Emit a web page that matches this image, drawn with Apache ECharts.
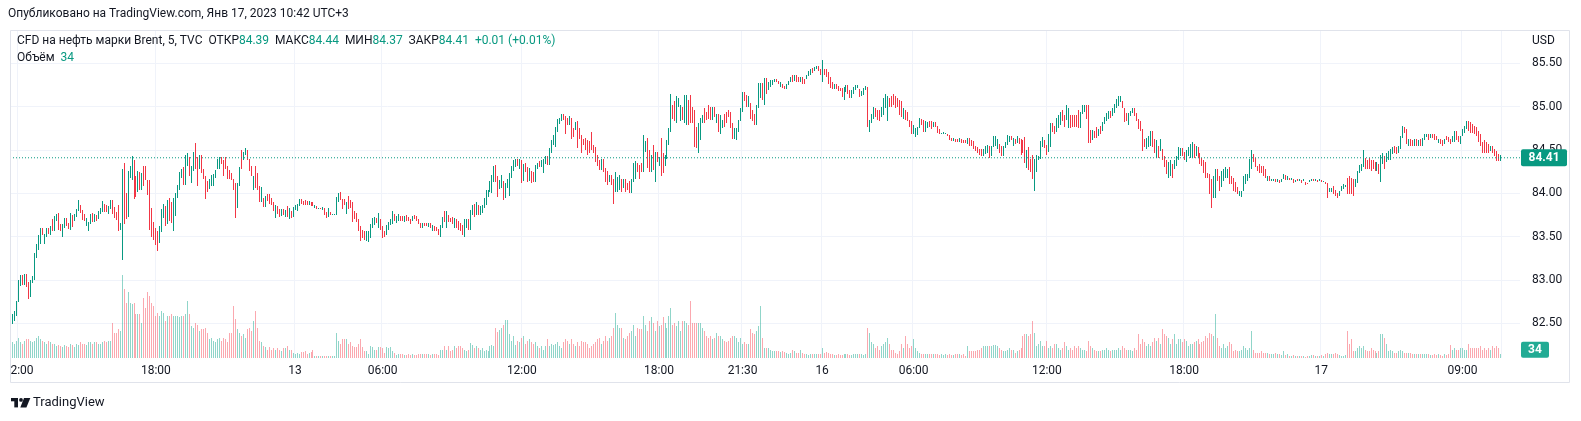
<!DOCTYPE html>
<html>
<head>
<meta charset="utf-8">
<script src="https://cdn.jsdelivr.net/npm/echarts@6.0.0/dist/echarts.min.js"></script>
<style>
  html, body { margin: 0; padding: 0; background: #fff; }
  #chart { width: 1581px; height: 421px; }
</style>
</head>
<body>
<div id="chart"></div>
<script>
// 5-minute bars: [open, close, low, high, volume]
// Jan 12, 12:00 -> 20:00
const part1 = [
  [82.42,82.56,82.40,82.58,140],[82.52,82.58,82.49,82.61,140],[82.55,82.62,82.53,82.64,130],[82.60,82.74,82.58,82.76,155],
  [82.75,82.98,82.74,83.00,185],[82.96,83.04,82.93,83.06,140],[83.04,82.96,82.94,83.06,125],[82.96,83.05,82.94,83.07,150],
  [83.05,82.93,82.92,83.07,170],[82.93,82.80,82.78,82.98,170],[82.82,82.98,82.80,83.00,155],[82.98,83.03,82.96,83.05,140],
  [83.02,83.30,83.00,83.31,155],[83.28,83.39,83.25,83.42,185],[83.38,83.49,83.35,83.52,200],[83.45,83.58,83.42,83.60,170],
  [83.58,83.54,83.52,83.60,155],[83.45,83.52,83.42,83.53,140],[83.52,83.58,83.50,83.60,125],[83.58,83.55,83.53,83.60,150],
  [83.55,83.60,83.52,83.62,140],[83.66,83.60,83.56,83.70,130],[83.58,83.72,83.56,83.74,125],[83.70,83.74,83.68,83.76,110],
  [83.75,83.62,83.58,83.77,115],[83.63,83.59,83.56,83.65,110],[83.54,83.62,83.50,83.64,95],[83.62,83.68,83.60,83.71,115],
  [83.68,83.64,83.62,83.71,110],[83.64,83.61,83.59,83.66,95],[83.60,83.75,83.58,83.77,125],[83.74,83.64,83.61,83.75,115],
  [83.70,83.75,83.68,83.76,95],[83.75,83.80,83.73,83.82,125],[83.80,83.90,83.79,83.92,115],[83.86,83.79,83.77,83.87,140],
  [83.80,83.70,83.69,83.81,125],[83.74,83.70,83.68,83.76,130],[83.67,83.70,83.62,83.72,115],[83.60,83.66,83.56,83.67,140],
  [83.66,83.74,83.64,83.76,140],[83.75,83.69,83.67,83.77,125],[83.69,83.74,83.67,83.76,140],[83.74,83.70,83.68,83.75,140],
  [83.72,83.78,83.70,83.79,125],[83.78,83.81,83.76,83.83,130],[83.80,83.89,83.78,83.91,140],[83.86,83.80,83.78,83.88,155],
  [83.84,83.80,83.78,83.87,140],[83.79,83.83,83.76,83.85,150],[83.83,83.90,83.82,83.92,150],[83.90,83.77,83.76,83.92,320],
  [83.82,83.74,83.72,83.84,230],[83.76,83.70,83.69,83.78,230],[83.72,83.60,83.56,83.86,260],[83.60,83.63,83.58,83.66,245],
  [83.62,84.20,83.23,84.28,760],[84.25,83.70,83.65,84.35,630],[83.90,83.75,83.70,84.00,500],[83.75,84.20,83.73,84.26,600],
  [84.20,84.25,84.18,84.32,505],[84.25,84.40,84.15,84.43,490],[84.36,83.95,83.93,84.38,505],[84.15,84.00,83.96,84.20,400],
  [84.05,84.24,84.02,84.26,400],[84.22,84.06,84.04,84.25,400],[84.06,84.22,84.04,84.24,320],[84.30,84.10,84.08,84.32,550],
  [84.30,84.18,84.15,84.32,460],[84.13,84.00,83.98,84.15,600],[84.10,83.60,83.58,84.15,570],[83.80,83.52,83.50,83.83,505],
  [83.65,83.48,83.46,83.67,475],[83.58,83.42,83.40,83.60,385],[83.55,83.38,83.33,83.57,415],[83.45,83.60,83.43,83.62,385],
  [83.58,83.80,83.55,83.82,430],[83.75,83.86,83.72,83.88,415],[83.82,83.64,83.62,83.85,340],[83.66,83.90,83.64,83.92,385],
  [83.92,83.70,83.68,83.95,385],[83.88,83.68,83.66,83.90,400],[83.60,83.92,83.56,83.95,385]
];
// Jan 12 evening -> Jan 13 early
const part2 = [
  [83.84,83.98,83.74,84.00,380],[83.98,84.08,83.94,84.10,385],[84.06,84.23,84.04,84.25,370],[84.22,84.26,84.18,84.28,385],
  [84.26,84.14,84.10,84.30,385],[84.12,84.38,84.10,84.44,400],[84.36,84.44,84.32,84.46,520],[84.40,84.22,84.20,84.42,400],
  [84.20,84.30,84.12,84.32,290],[84.28,84.46,84.26,84.48,275],[84.45,84.30,84.28,84.58,320],[84.40,84.10,84.08,84.42,305],
  [84.30,84.40,84.28,84.44,245],[84.42,84.26,84.24,84.44,260],[84.27,84.20,84.17,84.28,260],[84.18,83.95,83.93,84.20,275],
  [84.12,84.04,84.02,84.14,230],[84.08,84.15,84.05,84.17,170],[84.10,84.20,84.08,84.21,185],[84.10,84.20,84.08,84.22,155],
  [84.20,84.25,84.18,84.27,140],[84.30,84.38,84.28,84.40,170],[84.30,84.40,84.28,84.42,185],[84.40,84.36,84.34,84.42,155],
  [84.35,84.22,84.20,84.38,185],[84.40,84.30,84.28,84.42,170],[84.30,84.18,84.16,84.32,140],[84.25,84.18,84.16,84.27,230],
  [84.22,84.18,84.15,84.24,230],[84.14,84.06,84.04,84.16,475],[84.10,83.74,83.72,84.12,355],[83.85,84.10,83.83,84.12,260],
  [84.10,84.28,84.08,84.30,230],[84.40,84.30,84.28,84.50,200],[84.40,84.46,84.38,84.48,215],[84.46,84.50,84.44,84.52,185],
  [84.48,84.40,84.38,84.50,260],[84.38,84.28,84.26,84.40,275],[84.30,84.22,84.20,84.32,245],[84.06,84.18,84.04,84.20,340],
  [84.29,84.08,84.06,84.31,430],[84.22,84.06,84.04,84.24,275],[84.06,83.92,83.90,84.08,155],[83.92,84.05,83.90,84.07,140],
  [83.92,83.86,83.84,83.94,110],[83.86,83.95,83.84,83.97,95],[83.97,83.93,83.91,83.99,75],[83.97,83.90,83.88,83.99,95],
  [83.92,83.88,83.86,83.94,75],[83.88,83.81,83.79,83.90,85],[83.77,83.85,83.72,83.87,75],[83.83,83.78,83.76,83.85,85],
  [83.80,83.74,83.73,83.82,75],[83.76,83.80,83.74,83.82,60],[83.80,83.77,83.75,83.82,85],[83.76,83.79,83.73,83.81,85],
  [83.83,83.75,83.73,83.85,105],[83.73,83.82,83.70,83.83,75],[83.78,83.73,83.71,83.79,75],[83.75,83.83,83.73,83.84,45],
  [83.83,83.85,83.81,83.87,35],[83.82,83.87,83.80,83.88,45],[83.87,83.91,83.85,83.93,35],[83.92,83.89,83.88,83.93,55],
  [83.90,83.87,83.86,83.91,55],[83.91,83.88,83.87,83.92,60],[83.90,83.87,83.86,83.91,35],[83.87,83.90,83.86,83.91,45],
  [83.89,83.86,83.85,83.90,55],[83.89,83.86,83.85,83.90,75],[83.84,83.86,83.83,83.87,15],[83.84,83.83,83.82,83.85,12],
  [83.83,83.83,83.83,83.83,12],[83.83,83.82,83.82,83.83,12],[83.82,83.83,83.81,83.84,15],[83.82,83.77,83.75,83.83,18],
  [83.77,83.74,83.72,83.78,18],[83.74,83.81,83.73,83.83,15],[83.77,83.76,83.75,83.78,15],[83.76,83.76,83.76,83.76,15],
  [83.76,83.76,83.75,83.76,15],[83.76,83.95,83.75,83.96,230],[83.93,83.98,83.90,84.00,155],[84.00,83.94,83.92,84.02,125]
];
// Jan 13 morning
const part3 = [
  [83.92,83.83,83.82,83.93,170],[83.92,83.88,83.86,83.93,170],[83.77,83.88,83.76,83.90,170],[83.96,83.84,83.82,83.97,125],
  [83.90,83.85,83.83,83.92,140],[83.88,83.69,83.67,83.90,110],[83.79,83.72,83.70,83.80,95],[83.75,83.69,83.67,83.77,95],
  [83.69,83.58,83.56,83.70,125],[83.60,83.46,83.45,83.62,170],[83.57,83.50,83.48,83.58,95],[83.54,83.48,83.46,83.56,60],
  [83.47,83.54,83.45,83.56,60],[83.46,83.54,83.44,83.56,30],[83.50,83.62,83.48,83.64,110],[83.62,83.69,83.60,83.71,95],
  [83.65,83.71,83.63,83.73,75],[83.71,83.67,83.66,83.72,75],[83.62,83.75,83.60,83.77,95],[83.68,83.60,83.58,83.70,100],
  [83.60,83.52,83.48,83.62,85],[83.56,83.52,83.50,83.57,45],[83.54,83.62,83.52,83.63,95],[83.60,83.65,83.58,83.67,85],
  [83.65,83.67,83.63,83.70,95],[83.66,83.77,83.64,83.79,60],[83.75,83.69,83.68,83.76,45],[83.67,83.73,83.66,83.74,25],
  [83.69,83.75,83.68,83.76,35],[83.73,83.69,83.68,83.74,30],[83.73,83.69,83.68,83.74,30],[83.69,83.73,83.67,83.74,28],
  [83.74,83.69,83.68,83.75,25],[83.72,83.69,83.68,83.73,30],[83.69,83.65,83.64,83.70,25],[83.69,83.73,83.68,83.74,30],
  [83.74,83.71,83.70,83.75,25],[83.73,83.69,83.68,83.74,25],[83.69,83.65,83.64,83.70,30],[83.65,83.62,83.60,83.66,35],
  [83.62,83.65,83.60,83.66,30],[83.65,83.63,83.62,83.66,30],[83.65,83.63,83.62,83.66,35],[83.62,83.65,83.61,83.66,30],
  [83.65,83.61,83.60,83.66,25],[83.58,83.62,83.57,83.63,35],[83.61,83.58,83.57,83.62,30],[83.60,83.57,83.56,83.61,30],
  [83.58,83.54,83.52,83.59,25],[83.52,83.62,83.50,83.63,75],[83.62,83.71,83.60,83.73,75],[83.75,83.69,83.67,83.79,105],
  [83.62,83.77,83.60,83.79,75],[83.73,83.69,83.67,83.75,105],[83.71,83.69,83.67,83.72,60],[83.71,83.65,83.64,83.73,75],
  [83.62,83.71,83.60,83.72,105],[83.69,83.62,83.60,83.70,90],[83.67,83.60,83.58,83.68,105],[83.65,83.58,83.56,83.66,105],
  [83.62,83.54,83.52,83.63,90],[83.52,83.69,83.50,83.70,75],[83.62,83.69,83.60,83.70,60],[83.69,83.60,83.58,83.70,75],
  [83.60,83.79,83.58,83.81,135],[83.77,83.85,83.75,83.87,120],[83.87,83.75,83.73,83.88,90],[83.77,83.88,83.75,83.90,105],
  [83.85,83.77,83.75,83.86,90],[83.77,83.83,83.75,83.85,75],[83.79,83.85,83.77,83.87,90],[83.85,83.92,83.83,83.94,60],
  [83.88,84.02,83.86,84.04,75],[83.98,84.02,83.96,84.04,60],[84.03,84.12,84.01,84.14,105],[84.02,84.19,84.00,84.21,120],
  [84.15,84.25,84.13,84.31,105],[84.25,84.15,84.13,84.33,270],[84.18,83.98,83.96,84.20,240],[84.07,84.13,84.05,84.15,255],
  [84.08,84.19,84.06,84.21,270],[84.12,83.94,83.92,84.14,300],[83.96,84.10,83.94,84.12,345],[84.08,84.15,84.06,84.17,350]
];
// Jan 13 midday -> evening
const part4 = [
  [84.00,84.22,83.97,84.24,215],[84.20,84.28,84.18,84.31,150],[84.28,84.36,84.26,84.38,200],[84.32,84.38,84.30,84.40,120],
  [84.38,84.33,84.31,84.40,150],[84.30,84.38,84.28,84.40,140],[84.36,84.14,84.12,84.38,185],[84.16,84.32,84.14,84.34,200],
  [84.33,84.27,84.25,84.35,125],[84.28,84.15,84.13,84.30,155],[84.16,84.27,84.14,84.29,170],[84.25,84.14,84.12,84.26,140],
  [84.23,84.15,84.13,84.25,125],[84.15,84.31,84.13,84.33,140],[84.30,84.33,84.28,84.35,105],[84.36,84.32,84.30,84.37,90],
  [84.32,84.37,84.30,84.38,105],[84.25,84.38,84.23,84.40,75],[84.36,84.42,84.34,84.43,105],[84.42,84.35,84.33,84.43,170],
  [84.35,84.50,84.33,84.52,105],[84.48,84.60,84.46,84.62,125],[84.58,84.65,84.56,84.67,115],[84.55,84.75,84.53,84.77,125],
  [84.73,84.85,84.71,84.86,140],[84.83,84.85,84.80,84.87,105],[84.85,84.90,84.83,84.92,90],[84.90,84.87,84.85,84.92,140],
  [84.87,84.70,84.68,84.89,170],[84.85,84.81,84.79,84.87,155],[84.81,84.87,84.79,84.89,125],[84.85,84.65,84.63,84.87,170],
  [84.73,84.67,84.65,84.75,125],[84.75,84.81,84.73,84.82,105],[84.81,84.54,84.52,84.83,140],[84.73,84.65,84.63,84.75,105],
  [84.65,84.48,84.46,84.67,155],[84.62,84.58,84.56,84.63,140],[84.62,84.52,84.50,84.64,140],[84.60,84.46,84.44,84.62,125],
  [84.58,84.48,84.46,84.60,90],[84.69,84.52,84.50,84.71,105],[84.54,84.48,84.46,84.56,125],[84.52,84.38,84.36,84.54,140],
  [84.42,84.33,84.31,84.44,170],[84.37,84.29,84.27,84.38,185],[84.29,84.38,84.27,84.40,125],[84.38,84.27,84.25,84.40,155],
  [84.27,84.15,84.13,84.29,200],[84.25,84.12,84.10,84.26,155],[84.15,84.19,84.13,84.21,185],[84.19,84.12,84.10,84.21,200],
  [84.15,84.04,83.88,84.17,275],[84.04,84.23,84.02,84.25,415],[84.04,84.17,84.02,84.19,305],[84.06,84.19,84.04,84.21,275],
  [84.15,84.04,84.02,84.17,275],[84.08,84.15,84.06,84.17,185],[84.15,84.04,84.02,84.17,170],[84.10,84.06,84.04,84.12,200],
  [84.12,84.02,84.00,84.14,230],[84.02,84.15,84.00,84.17,245],[84.15,84.33,84.13,84.35,305],[84.19,84.35,84.17,84.37,200],
  [84.33,84.27,84.25,84.35,275],[84.31,84.19,84.17,84.33,260],[84.33,84.27,84.25,84.35,260],[84.27,84.65,84.25,84.67,385],
  [84.50,84.58,84.48,84.60,305],[84.62,84.31,84.29,84.64,245],[84.48,84.27,84.25,84.50,340],[84.27,84.42,84.25,84.44,370],
  [84.54,84.29,84.27,84.56,320],[84.15,84.46,84.13,84.48,245],[84.46,84.38,84.36,84.48,340],[84.33,84.40,84.31,84.42,290],
  [84.62,84.29,84.20,84.64,305],[84.44,84.25,84.23,84.46,370],[84.33,84.42,84.31,84.44,320],[84.42,84.58,84.40,84.62,275],
  [84.58,84.73,84.56,84.75,385],[84.73,85.08,84.71,85.15,460],[85.00,84.88,84.86,85.02,305]
];
// Jan 13 evening -> Jan 16 open
const part5 = [
  [85.04,84.85,84.83,85.06,320],[84.83,85.10,84.81,85.12,290],[85.02,85.08,85.00,85.10,340],[84.85,85.00,84.83,85.02,245],
  [84.98,84.87,84.85,85.00,340],[84.83,85.12,84.81,85.13,340],[84.81,85.12,84.79,85.14,320],[85.06,84.81,84.79,85.08,305],
  [85.12,84.83,84.81,85.13,520],[84.98,84.83,84.81,85.00,320],[84.94,84.56,84.54,84.96,320],[84.75,84.54,84.52,84.77,320],
  [84.52,84.79,84.46,84.81,320],[84.63,84.85,84.61,84.87,320],[84.83,84.88,84.81,84.90,275],[84.96,84.83,84.81,84.98,245],
  [84.92,84.87,84.85,84.94,200],[85.00,84.88,84.86,85.02,185],[84.98,84.87,84.85,85.00,200],[84.87,84.98,84.85,85.00,170],
  [84.98,84.90,84.88,85.00,185],[84.83,84.90,84.81,84.92,230],[84.90,84.73,84.71,84.92,200],[84.71,84.88,84.69,84.90,200],
  [84.77,84.83,84.75,84.85,170],[84.90,84.79,84.77,84.92,155],[84.92,84.83,84.81,84.94,140],[84.94,84.90,84.88,84.96,155],
  [84.92,84.77,84.75,84.94,185],[84.79,84.65,84.63,84.81,200],[84.65,84.73,84.63,84.75,200],[84.63,84.73,84.61,84.75,185],
  [84.73,84.83,84.71,84.85,140],[84.85,84.96,84.83,84.98,185],[84.96,85.15,84.94,85.17,125],[85.15,85.08,85.06,85.17,140],
  [85.12,85.02,85.00,85.14,125],[85.02,85.10,85.00,85.12,125],[85.02,84.88,84.86,85.04,260],[84.94,84.85,84.83,84.96,230],
  [84.90,84.81,84.79,84.92,215],[84.81,85.00,84.79,85.02,245],[85.00,85.25,84.98,85.27,290],[85.12,85.25,85.10,85.27,475],
  [85.25,85.10,85.08,85.27,185],[85.04,85.31,85.02,85.33,90],[85.31,85.17,85.15,85.33,90],[85.21,85.27,85.19,85.29,90],
  [85.25,85.29,85.23,85.31,75],[85.27,85.29,85.25,85.31,60],[85.29,85.31,85.29,85.32,60],[85.31,85.29,85.28,85.32,60],
  [85.29,85.27,85.26,85.30,65],[85.24,85.27,85.23,85.28,55],[85.25,85.22,85.21,85.26,65],[85.23,85.21,85.20,85.24,55],
  [85.21,85.25,85.20,85.26,45],[85.26,85.29,85.25,85.30,35],[85.29,85.33,85.28,85.34,45],[85.35,85.29,85.28,85.36,75],
  [85.31,85.36,85.30,85.37,60],[85.35,85.29,85.28,85.36,45],[85.33,85.29,85.28,85.34,45],[85.29,85.33,85.28,85.34,75],
  [85.33,85.27,85.26,85.34,45],[85.31,85.27,85.26,85.32,35],[85.33,85.36,85.32,85.37,30],[85.36,85.40,85.35,85.41,25],
  [85.38,85.42,85.37,85.43,35],[85.44,85.40,85.39,85.45,30],[85.42,85.45,85.41,85.46,35],[85.44,85.46,85.43,85.47,30],
  [85.46,85.42,85.41,85.47,35],[85.42,85.38,85.37,85.43,35],[85.29,85.42,85.29,85.54,90],[85.42,85.38,85.37,85.44,45],
  [85.42,85.35,85.34,85.43,55],[85.38,85.27,85.26,85.40,45],[85.33,85.23,85.22,85.34,30],[85.27,85.21,85.20,85.28,35],
  [85.21,85.25,85.20,85.26,25],[85.25,85.21,85.20,85.26,25],[85.23,85.19,85.18,85.24,30],[85.21,85.19,85.18,85.22,25],
  [85.19,85.12,85.11,85.21,25]
];
// Jan 16 night -> morning
const part6 = [
  [85.10,85.21,85.08,85.23,35],[85.19,85.23,85.17,85.25,30],[85.23,85.17,85.15,85.25,30],[85.17,85.12,85.10,85.19,25],
  [85.12,85.17,85.10,85.19,25],[85.17,85.21,85.15,85.23,30],[85.21,85.23,85.19,85.25,30],[85.22,85.24,85.21,85.25,35],
  [85.19,85.12,85.11,85.20,30],[85.13,85.17,85.12,85.18,30],[85.15,85.21,85.14,85.22,25],[85.21,85.23,85.19,85.24,30],
  [85.21,84.79,84.77,85.23,275],[84.73,84.83,84.71,84.85,230],[84.83,84.90,84.81,84.92,140],[84.88,84.98,84.86,85.00,125],
  [84.96,84.90,84.88,84.98,90],[84.94,84.87,84.85,84.96,105],[84.94,84.85,84.83,84.96,75],[84.90,84.98,84.88,85.00,105],
  [84.92,85.08,84.90,85.10,125],[85.00,85.13,84.98,85.15,140],[84.85,85.10,84.83,85.12,185],[85.08,85.02,85.00,85.10,125],
  [85.10,85.02,85.00,85.12,75],[85.13,85.04,85.02,85.15,75],[85.10,85.00,84.98,85.12,45],[85.08,85.02,85.00,85.10,30],
  [85.06,84.92,84.90,85.08,60],[85.04,84.90,84.88,85.06,125],[84.88,84.96,84.86,84.98,90],[84.94,84.87,84.85,84.96,200],
  [84.92,84.85,84.83,84.94,125],[84.83,84.79,84.77,84.85,90],[84.81,84.71,84.69,84.83,105],[84.71,84.77,84.69,84.79,170],
  [84.67,84.73,84.65,84.75,90],[84.69,84.75,84.67,84.77,60],[84.77,84.85,84.75,84.87,45],[84.85,84.81,84.79,84.86,35],
  [84.83,84.73,84.71,84.85,30],[84.73,84.81,84.71,84.83,35],[84.77,84.81,84.75,84.82,30],[84.81,84.77,84.76,84.83,35],
  [84.81,84.75,84.74,84.83,30],[84.77,84.81,84.76,84.82,35],[84.81,84.77,84.76,84.82,30],[84.77,84.71,84.70,84.78,35],
  [84.73,84.69,84.68,84.74,25],[84.69,84.69,84.69,84.70,30],[84.68,84.70,84.68,84.71,25],[84.69,84.69,84.69,84.70,35],
  [84.69,84.67,84.66,84.69,25],[84.67,84.63,84.62,84.67,30],[84.63,84.61,84.60,84.64,25],[84.60,84.63,84.60,84.64,25],
  [84.62,84.60,84.59,84.63,35],[84.62,84.60,84.59,84.63,35],[84.60,84.63,84.59,84.64,30],[84.62,84.59,84.58,84.63,25],
  [84.61,84.59,84.58,84.62,30],[84.60,84.59,84.58,84.61,15],[84.58,84.63,84.57,84.64,105],[84.63,84.56,84.55,84.64,60],
  [84.60,84.56,84.55,84.61,60],[84.59,84.52,84.51,84.60,60],[84.54,84.50,84.49,84.55,60],[84.52,84.48,84.47,84.53,75],
  [84.50,84.45,84.44,84.51,75],[84.50,84.44,84.43,84.51,90],[84.44,84.50,84.43,84.51,105],[84.46,84.54,84.45,84.55,105],
  [84.48,84.55,84.47,84.56,105],[84.54,84.42,84.41,84.55,105],[84.44,84.54,84.43,84.55,105],[84.54,84.65,84.53,84.66,120],
  [84.56,84.65,84.55,84.66,120],[84.52,84.62,84.51,84.63,105],[84.56,84.48,84.47,84.57,90],[84.54,84.44,84.43,84.55,75],
  [84.44,84.54,84.43,84.55,60],[84.54,84.58,84.52,84.59,60],[84.58,84.65,84.56,84.67,75]
];
// Jan 16 midday
const part7 = [
  [84.60,84.65,84.59,84.66,90],[84.65,84.62,84.61,84.66,75],[84.56,84.63,84.55,84.64,75],[84.62,84.58,84.57,84.63,45],
  [84.59,84.65,84.58,84.66,60],[84.63,84.58,84.57,84.64,75],[84.62,84.46,84.44,84.63,90],[84.60,84.48,84.46,84.62,200],
  [84.63,84.38,84.35,84.65,215],[84.31,84.48,84.29,84.50,215],[84.52,84.29,84.27,84.54,200],[84.38,84.27,84.25,84.40,215],
  [84.42,84.19,84.17,84.44,340],[84.19,84.38,84.03,84.40,230],[84.27,84.42,84.25,84.44,105],[84.40,84.42,84.39,84.43,125],
  [84.42,84.58,84.40,84.60,155],[84.56,84.63,84.54,84.65,105],[84.60,84.54,84.52,84.62,105],[84.54,84.46,84.44,84.56,155],
  [84.50,84.67,84.48,84.69,90],[84.56,84.79,84.54,84.81,105],[84.79,84.73,84.71,84.81,90],[84.77,84.71,84.69,84.78,125],
  [84.73,84.85,84.71,84.87,125],[84.77,84.88,84.75,84.90,90],[84.81,84.92,84.79,84.94,75],[84.94,84.85,84.83,84.96,90],
  [84.88,84.79,84.77,84.90,140],[84.87,85.00,84.85,85.02,105],[84.77,84.96,84.75,84.98,75],[84.88,84.77,84.75,84.90,90],
  [84.88,84.79,84.77,84.90,75],[84.88,84.79,84.77,84.90,105],[84.88,84.79,84.77,84.90,90],[84.94,84.77,84.75,84.96,105],
  [84.77,84.92,84.75,84.94,90],[84.94,85.00,84.92,85.02,75],[84.96,85.00,84.94,85.02,75],[85.00,84.88,84.86,85.02,60],
  [85.00,84.60,84.58,85.02,155],[84.71,84.60,84.58,84.73,105],[84.63,84.71,84.62,84.73,90],[84.71,84.65,84.64,84.72,75],
  [84.75,84.65,84.64,84.77,60],[84.67,84.73,84.66,84.74,60],[84.77,84.69,84.68,84.78,60],[84.73,84.81,84.72,84.82,75],
  [84.81,84.87,84.80,84.88,75],[84.85,84.92,84.84,84.93,90],[84.87,84.94,84.86,84.95,75],[84.94,84.88,84.87,84.95,60],
  [84.90,84.98,84.89,84.99,75],[84.94,85.02,84.93,85.03,75],[85.00,85.08,84.99,85.09,75],[85.02,85.10,85.01,85.12,90],
  [85.06,85.08,85.05,85.12,75],[85.06,85.00,84.99,85.07,105],[84.98,84.83,84.82,84.99,90],[84.92,84.85,84.84,84.93,75],
  [84.81,84.92,84.79,84.93,75],[84.90,84.94,84.89,84.95,75],[84.94,84.98,84.93,84.99,60],[84.98,84.90,84.89,84.99,90],
  [84.92,84.85,84.84,84.93,75],[84.85,84.75,84.74,84.86,215],[84.83,84.73,84.72,84.84,125],[84.73,84.50,84.49,84.74,170],
  [84.62,84.54,84.53,84.63,140],[84.52,84.63,84.51,84.64,105],[84.54,84.65,84.53,84.66,125],[84.56,84.71,84.55,84.72,105],
  [84.71,84.54,84.53,84.72,140],[84.62,84.48,84.47,84.63,185],[84.42,84.60,84.41,84.61,155],[84.54,84.42,84.41,84.55,185],
  [84.50,84.62,84.49,84.63,125],[84.50,84.40,84.39,84.51,260],[84.42,84.31,84.30,84.43,215],[84.38,84.23,84.22,84.39,200],
  [84.19,84.35,84.18,84.36,185],[84.21,84.37,84.20,84.38,125],[84.33,84.19,84.18,84.34,170]
];
// Jan 16 evening -> Jan 17 night
const part8 = [
  [84.29,84.37,84.28,84.38,215],[84.33,84.42,84.32,84.43,125],[84.40,84.52,84.39,84.54,170],[84.44,84.50,84.43,84.52,170],
  [84.50,84.44,84.43,84.52,140],[84.46,84.40,84.39,84.48,170],[84.37,84.48,84.36,84.50,155],[84.44,84.52,84.43,84.54,105],
  [84.42,84.56,84.41,84.57,125],[84.42,84.58,84.41,84.59,125],[84.56,84.42,84.41,84.57,140],[84.44,84.54,84.43,84.55,155],
  [84.52,84.42,84.41,84.53,170],[84.46,84.35,84.34,84.47,125],[84.40,84.33,84.32,84.41,140],[84.37,84.25,84.24,84.38,155],
  [84.35,84.19,84.18,84.36,200],[84.23,84.19,84.18,84.24,185],[84.21,84.00,83.99,84.22,230],[84.15,83.98,83.83,84.16,215],
  [83.96,84.19,83.95,84.20,200],[83.96,84.27,83.95,84.28,400],[84.27,84.15,84.14,84.28,185],[84.19,84.04,84.03,84.20,105],
  [84.08,84.25,84.07,84.26,90],[84.15,84.27,84.14,84.28,125],[84.19,84.29,84.18,84.30,90],[84.19,84.27,84.18,84.28,105],
  [84.29,84.12,84.11,84.30,140],[84.19,84.12,84.11,84.20,125],[84.17,84.04,84.03,84.18,60],[84.12,84.02,84.01,84.13,75],
  [84.06,84.00,83.99,84.07,60],[83.98,84.02,83.97,84.03,60],[83.97,84.02,83.96,84.03,75],[84.04,84.19,84.03,84.20,105],
  [84.12,84.21,84.11,84.22,90],[84.15,84.21,84.14,84.22,75],[84.19,84.38,84.18,84.40,90],[84.29,84.48,84.28,84.50,245],
  [84.44,84.37,84.36,84.45,75],[84.40,84.31,84.30,84.41,45],[84.31,84.27,84.26,84.32,45],[84.33,84.25,84.24,84.34,45],
  [84.31,84.25,84.24,84.32,60],[84.31,84.21,84.20,84.32,45],[84.27,84.19,84.18,84.28,45],[84.15,84.19,84.14,84.20,45],
  [84.19,84.15,84.14,84.20,30],[84.15,84.17,84.14,84.17,30],[84.14,84.16,84.14,84.17,30],[84.16,84.13,84.13,84.17,45],
  [84.14,84.16,84.13,84.17,30],[84.15,84.13,84.12,84.15,30],[84.14,84.16,84.13,84.16,25],[84.17,84.21,84.16,84.22,60],
  [84.20,84.16,84.15,84.21,25],[84.15,84.19,84.15,84.20,30],[84.18,84.16,84.15,84.18,15],[84.15,84.17,84.15,84.18,15],
  [84.16,84.13,84.12,84.16,25],[84.13,84.15,84.13,84.15,20],[84.15,84.14,84.14,84.16,12],[84.14,84.15,84.14,84.16,12],
  [84.15,84.13,84.12,84.15,12],[84.14,84.15,84.14,84.16,12],[84.13,84.10,84.10,84.13,10],[84.12,84.11,84.11,84.12,12],
  [84.13,84.15,84.13,84.15,12],[84.14,84.16,84.14,84.16,25],[84.16,84.14,84.14,84.16,25],[84.14,84.16,84.14,84.16,15],
  [84.15,84.13,84.13,84.15,20],[84.14,84.16,84.14,84.16,20],[84.15,84.13,84.13,84.15,25],[84.13,84.13,84.13,84.14,15],
  [84.13,84.12,84.11,84.13,30],[84.12,83.96,83.95,84.12,45],[84.02,84.06,84.01,84.06,30],[84.02,84.06,84.01,84.06,30],
  [84.08,84.00,83.99,84.08,35],[84.04,83.98,83.97,84.04,45],[84.00,83.96,83.95,84.00,30]
];
// Jan 17 morning
const part9 = [
  [83.98,84.02,83.97,84.03,25],[84.04,84.08,84.03,84.09,15],[84.06,84.10,84.05,84.11,15],[84.08,84.09,84.07,84.10,25],
  [84.17,84.00,83.99,84.18,245],[84.19,84.00,83.99,84.20,125],[84.17,84.00,83.99,84.18,170],[84.15,83.98,83.97,84.16,60],
  [84.08,84.15,84.07,84.16,60],[84.13,84.25,84.12,84.26,90],[84.25,84.31,84.24,84.33,105],[84.27,84.33,84.26,84.34,90],
  [84.31,84.48,84.30,84.50,105],[84.40,84.29,84.28,84.41,75],[84.37,84.29,84.28,84.38,60],[84.40,84.29,84.28,84.41,60],
  [84.38,84.27,84.26,84.39,90],[84.38,84.29,84.28,84.39,75],[84.35,84.27,84.26,84.36,60],[84.27,84.35,84.26,84.36,45],
  [84.33,84.23,84.22,84.34,60],[84.25,84.42,84.13,84.44,215],[84.35,84.46,84.34,84.47,215],[84.42,84.29,84.28,84.43,185],
  [84.37,84.46,84.36,84.47,125],[84.40,84.48,84.39,84.49,60],[84.40,84.50,84.39,84.51,75],[84.46,84.52,84.45,84.53,60],
  [84.54,84.48,84.47,84.55,45],[84.52,84.46,84.45,84.53,45],[84.48,84.54,84.47,84.55,60],[84.52,84.65,84.51,84.66,75],
  [84.65,84.77,84.64,84.78,60],[84.75,84.71,84.70,84.76,45],[84.73,84.58,84.57,84.74,45],[84.56,84.62,84.55,84.63,45],
  [84.62,84.56,84.55,84.63,45],[84.60,84.56,84.55,84.61,30],[84.56,84.62,84.55,84.63,35],[84.62,84.56,84.55,84.63,30],
  [84.56,84.60,84.55,84.61,35],[84.62,84.56,84.55,84.63,30],[84.56,84.63,84.55,84.64,35],[84.63,84.67,84.62,84.68,35],
  [84.66,84.68,84.65,84.69,30],[84.67,84.63,84.62,84.68,30],[84.65,84.68,84.64,84.69,25],[84.68,84.65,84.64,84.69,25],
  [84.67,84.63,84.62,84.68,30],[84.65,84.62,84.61,84.66,25],[84.59,84.62,84.58,84.63,30],[84.62,84.58,84.57,84.63,25],
  [84.60,84.56,84.55,84.61,20],[84.58,84.62,84.57,84.63,30],[84.65,84.62,84.61,84.66,25],[84.64,84.60,84.59,84.65,30],
  [84.62,84.58,84.57,84.63,115],[84.60,84.65,84.59,84.66,75],[84.60,84.71,84.59,84.72,90],[84.71,84.62,84.61,84.72,75],
  [84.65,84.60,84.59,84.66,75],[84.58,84.65,84.57,84.66,90],[84.67,84.73,84.66,84.74,90],[84.71,84.77,84.70,84.78,75],
  [84.75,84.83,84.74,84.84,75],[84.83,84.73,84.72,84.84,125],[84.81,84.71,84.70,84.82,90],[84.79,84.71,84.70,84.80,85],
  [84.77,84.69,84.68,84.78,90],[84.75,84.67,84.66,84.76,90],[84.71,84.60,84.59,84.72,90],[84.67,84.56,84.55,84.68,105],
  [84.58,84.48,84.47,84.59,75],[84.60,84.48,84.47,84.61,90],[84.58,84.48,84.47,84.59,75],[84.56,84.48,84.47,84.57,90],
  [84.50,84.54,84.49,84.55,75],[84.54,84.48,84.47,84.55,105],[84.50,84.44,84.43,84.51,90],[84.48,84.38,84.37,84.49,105],
  [84.44,84.40,84.37,84.45,90],[84.39,84.41,84.37,84.44,34]
];

// time-axis labels: [bar index, text]
const timeTicks = [
  [4, '12:00'], [73, '18:00'], [143, '13'], [187, '06:00'], [257, '12:00'], [326, '18:00'],
  [368, '21:30'], [408, '16'], [454, '06:00'], [521, '12:00'], [590, '18:00'], [659, '17'], [730, '09:00']
];
const priceMin = 82, priceMax = 86, priceStep = 0.5;
const volMax = 3015;

const bars = [].concat(part1, part2, part3, part4, part5, part6, part7, part8, part9);
const N = bars.length;
const cats = bars.map((b, i) => String(i));
// [index, open, close, low, high]
const candleData = bars.map((b, i) => [i, b[0], b[1], b[2], b[3]]);
// [index, volume, up?]
const volumeData = bars.map((b, i) => [i, b[4], b[1] >= b[0] ? 1 : 0]);

const UP = '#089981', DOWN = '#F23645';
const UP_VOL = 'rgba(34,171,148,0.5)', DOWN_VOL = 'rgba(247,82,95,0.5)';
const TEXT = '#131722', GRID = '#f0f3fa', FRAME = '#e0e3eb';
const FONT = 'Roboto, "Noto Sans", sans-serif';

const tickMap = {};
timeTicks.forEach(t => { tickMap[t[0]] = t[1]; });
const isTick = i => tickMap[i] !== undefined;

const last = bars[N - 1];
const prevClose = bars[N - 2][1];
const chg = last[1] - prevClose;
const pct = chg / prevClose * 100;
const sgn = v => (v >= 0 ? '+' : '') + v.toFixed(2);

// bar 0 sits at x=10.7, the last bar at x=1500.3
const firstX = 10.7, lastX = 1500.3;
const step = (lastX - firstX) / (N - 1);
const plotLeft = firstX - step / 2;
const plotWidth = step * N;
const paneTop = 30, paneBottom = 357.7;
const scaleTop = 20, scaleHeight = 346.6;

const chart = echarts.init(document.getElementById('chart'), null, { renderer: 'canvas' });

const nLines = Math.round((priceMax - priceMin) / priceStep) + 1;
const lineColors = [];
for (let k = 0; k < nLines; k++) lineColors.push(k === 0 || k === nLines - 1 ? 'rgba(0,0,0,0)' : GRID);

// thin candles snapped to whole pixels, like the terminal draws them when zoomed out
function renderCandle(params, api) {
  const i = api.value(0);
  const o = api.value(1), c = api.value(2), l = api.value(3), h = api.value(4);
  const top = api.coord([i, h]);
  const bot = api.coord([i, l]);
  const x = Math.floor(top[0]);
  const y1 = Math.round(top[1]);
  const y2 = Math.round(bot[1]);
  return {
    type: 'rect',
    shape: { x: x, y: y1, width: 1, height: Math.max(1, y2 - y1) },
    style: { fill: c >= o ? UP : DOWN }
  };
}

function renderVolume(params, api) {
  const i = api.value(0);
  const topPt = api.coord([i, api.value(1)]);
  const basePt = api.coord([i, 0]);
  const x = Math.floor(topPt[0]);
  const y = Math.round(topPt[1]);
  return {
    type: 'rect',
    shape: { x: x, y: y, width: 1, height: Math.max(1, Math.round(basePt[1]) - y) },
    style: { fill: api.value(2) ? UP_VOL : DOWN_VOL }
  };
}

chart.setOption({
  animation: false,
  backgroundColor: '#fff',
  textStyle: { fontFamily: FONT },
  grid: [
    { left: plotLeft, width: plotWidth, top: scaleTop, height: scaleHeight, containLabel: false, outerBoundsMode: 'none' },
    { left: plotLeft, width: plotWidth, top: paneTop, height: paneBottom - paneTop, containLabel: false, outerBoundsMode: 'none' },
    { left: 10, width: 1510, top: scaleTop, height: scaleHeight, containLabel: false, outerBoundsMode: 'none' }
  ],
  xAxis: [
    { type: 'category', gridIndex: 0, data: cats, show: false, boundaryGap: true },
    {
      type: 'category', gridIndex: 1, data: cats, boundaryGap: true,
      axisLine: { show: false }, axisTick: { show: false },
      axisLabel: {
        interval: (i) => isTick(i),
        formatter: (v, i) => tickMap[i] || '',
        color: TEXT, fontSize: 12, fontFamily: FONT, margin: 7
      },
      splitLine: { show: true, interval: (i) => isTick(i), lineStyle: { color: GRID, width: 1 } }
    },
    { type: 'value', gridIndex: 2, min: 0, max: 1, show: false }
  ],
  yAxis: [
    { type: 'value', gridIndex: 0, min: priceMin, max: priceMax, show: false },
    { type: 'value', gridIndex: 1, min: 0, max: volMax, show: false },
    {
      type: 'value', gridIndex: 2, position: 'right',
      min: priceMin, max: priceMax, interval: priceStep,
      axisLine: { show: false }, axisTick: { show: false },
      splitLine: { show: true, lineStyle: { color: lineColors, width: 1 } },
      axisLabel: {
        showMinLabel: false, showMaxLabel: false,
        formatter: v => (v <= priceMin || v >= priceMax) ? '' : v.toFixed(2),
        color: TEXT, fontSize: 12, fontFamily: FONT, margin: 12
      }
    }
  ],
  series: [
    {
      type: 'custom', name: 'volume', xAxisIndex: 1, yAxisIndex: 1,
      data: volumeData, renderItem: renderVolume, silent: true,
      encode: { x: 0, y: 1 }, clip: false
    },
    {
      type: 'custom', name: 'Brent', xAxisIndex: 0, yAxisIndex: 0,
      data: candleData, renderItem: renderCandle, silent: true,
      encode: { x: 0, y: [1, 2, 3, 4] }, clip: false
    },
    {
      type: 'line', name: 'price line', xAxisIndex: 2, yAxisIndex: 2,
      data: [[0, last[1]], [1, last[1]]], symbol: 'none', silent: true,
      lineStyle: { color: UP, width: 1, type: [1, 2] }, z: 3
    }
  ]
});

const priceY = chart.convertToPixel({ yAxisIndex: 2 }, last[1]);
const volBase = chart.convertToPixel({ yAxisIndex: 1 }, 0);
const volY = Math.min(chart.convertToPixel({ yAxisIndex: 1 }, last[4]), volBase - 8);

const legendRich = {
  d: { fill: TEXT, fontSize: 12, fontFamily: FONT },
  g: { fill: UP, fontSize: 12, fontFamily: FONT }
};

chart.setOption({
  graphic: [
    { type: 'text', x: 8, y: 14, z: 100,
      style: { text: 'Опубликовано на TradingView.com, Янв 17, 2023 10:42 UTC+3', fill: TEXT,
               fontSize: 12, fontFamily: FONT, verticalAlign: 'middle' } },
    { type: 'text', x: 17, y: 41, z: 100,
      style: {
        text: '{d|CFD на нефть марки Brent, 5, TVC  ОТКР}{g|' + last[0].toFixed(2) + '}' +
              '{d|  МАКС}{g|' + last[3].toFixed(2) + '}' +
              '{d|  МИН}{g|' + last[2].toFixed(2) + '}' +
              '{d|  ЗАКР}{g|' + last[1].toFixed(2) + '}' +
              '{g|  ' + sgn(chg) + ' (' + sgn(pct) + '%)}',
        rich: legendRich, verticalAlign: 'middle'
      } },
    { type: 'text', x: 17, y: 58, z: 100,
      style: { text: '{d|Объём  }{g|' + last[4] + '}', rich: legendRich, verticalAlign: 'middle' } },
    { type: 'text', x: 1532, y: 41, z: 100,
      style: { text: 'USD', fill: TEXT, fontSize: 12, fontFamily: FONT, verticalAlign: 'middle' } },
    // hides the part of the first time label that falls outside the pane
    { type: 'rect', z: 99, shape: { x: 0, y: 359, width: 10, height: 22 }, style: { fill: '#fff' } },
    { type: 'rect', z: 101, shape: { x: 10.5, y: 30.5, width: 1559, height: 352 },
      style: { fill: 'none', stroke: FRAME, lineWidth: 1 } },
    // last price label
    { type: 'rect', z: 102, shape: { x: 1521, y: priceY - 8.5, width: 46, height: 17, r: 2 }, style: { fill: UP } },
    { type: 'text', x: 1544, y: priceY, z: 103,
      style: { text: last[1].toFixed(2), fill: '#fff', fontSize: 12, fontWeight: 'bold', fontFamily: FONT,
               align: 'center', verticalAlign: 'middle' } },
    // last volume label
    { type: 'rect', z: 102, shape: { x: 1521, y: volY - 8, width: 28, height: 16, r: 2 }, style: { fill: '#22ab94' } },
    { type: 'text', x: 1535, y: volY, z: 103,
      style: { text: String(last[4]), fill: '#fff', fontSize: 12, fontWeight: 'bold', fontFamily: FONT,
               align: 'center', verticalAlign: 'middle' } },
    // TradingView logo
    { type: 'rect', z: 100, shape: { x: 11, y: 398, width: 7, height: 3.3 }, style: { fill: TEXT } },
    { type: 'rect', z: 100, shape: { x: 14.3, y: 398, width: 3.7, height: 9.4 }, style: { fill: TEXT } },
    { type: 'circle', z: 100, shape: { cx: 21, cy: 399.9, r: 1.9 }, style: { fill: TEXT } },
    { type: 'polygon', z: 100, shape: { points: [[24, 398], [30.3, 398], [26.4, 407.4], [20.3, 407.4]] }, style: { fill: TEXT } },
    { type: 'text', x: 33, y: 402.5, z: 100,
      style: { text: 'TradingView', fill: TEXT, fontSize: 13, fontFamily: FONT, verticalAlign: 'middle' } }
  ]
});
</script>
</body>
</html>
